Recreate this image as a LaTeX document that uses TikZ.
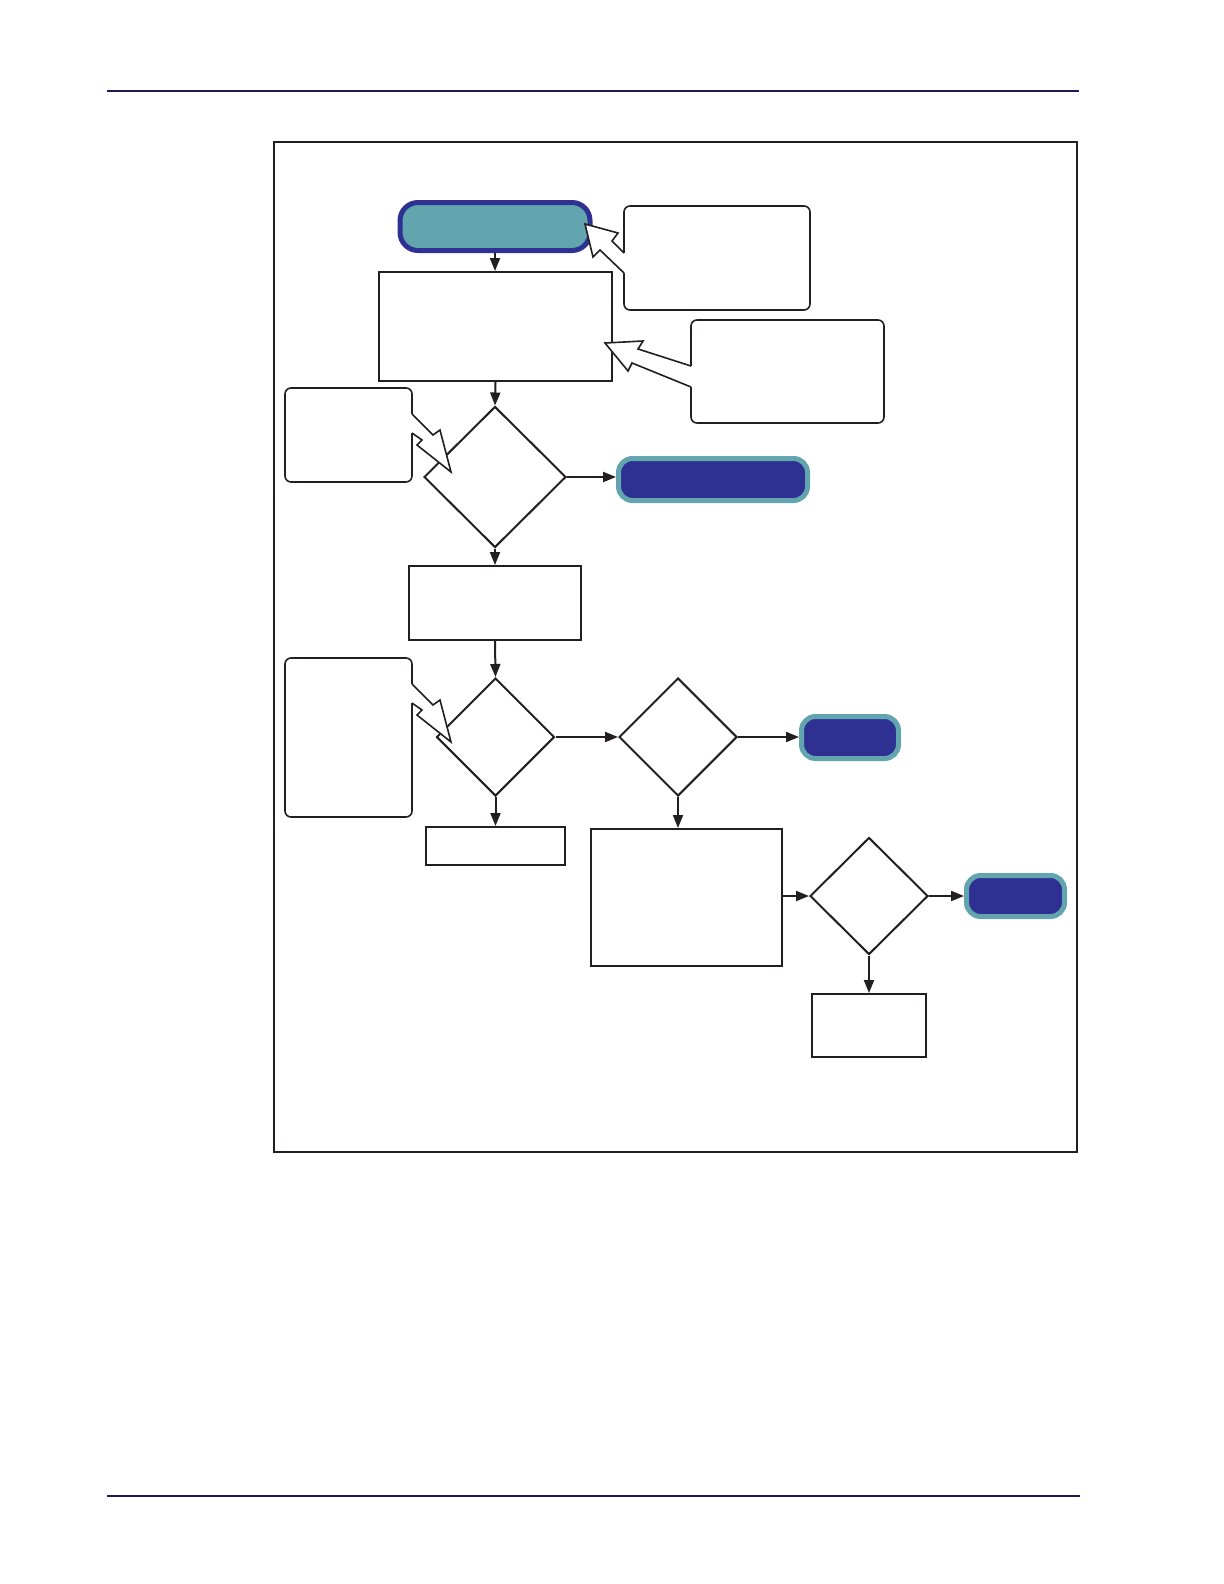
\documentclass[tikz,border=0pt]{standalone}
\usetikzlibrary{shapes.geometric,arrows.meta}
\newdimen\pxu \pxu=0.5pt
\definecolor{ink}{RGB}{35,31,32}
\definecolor{navy}{RGB}{46,49,146}
\definecolor{tealf}{RGB}{98,165,174}
\definecolor{rulec}{RGB}{32,24,90}
\tikzset{
  box/.style={rectangle, draw=ink, line width=2\pxu, fill=white, inner sep=0pt},
  note/.style={rectangle, rounded corners=6\pxu, draw=ink, line width=1.6\pxu, fill=white, inner sep=0pt},
  decision/.style={diamond, draw=ink, line width=2\pxu, fill=white, inner sep=0pt},
  startterm/.style={rectangle, rounded corners=18\pxu, fill=tealf, draw=navy, line width=5\pxu, inner sep=0pt},
  endterm/.style={rectangle, rounded corners=14\pxu, fill=navy, draw=tealf, line width=5\pxu, inner sep=0pt},
  flow/.style={draw=ink, line width=1pt, -{Triangle[length=6.5pt,width=5pt]}},
  pointer/.style={draw=ink, line width=1.6\pxu, line join=miter},
}
\begin{document}
\begin{tikzpicture}[x=0.5pt,y=-0.5pt]
\useasboundingbox (0,0) rectangle (1224,1584);
% page rules and frame
\draw[rulec, line width=1.4\pxu] (107,91) -- (1079,91);
\draw[rulec, line width=1.4\pxu] (107,1496) -- (1080,1496);
\draw[ink, line width=2\pxu] (274,142) rectangle (1077,1152);

% nodes
\node[startterm, minimum width=190\pxu, minimum height=48\pxu] (start) at (495,226.5) {};
\node[box, minimum width=233\pxu, minimum height=109\pxu] (boxA) at (495.5,326.5) {};
\node[note, minimum width=186\pxu, minimum height=104\pxu] (call1) at (717,258) {};
\node[note, minimum width=193\pxu, minimum height=103\pxu] (call2) at (787.5,371.5) {};
\node[note, minimum width=127\pxu, minimum height=94\pxu] (call3) at (348.5,435) {};
\node[note, minimum width=127\pxu, minimum height=159\pxu] (call4) at (348.5,737.5) {};
\node[decision, minimum width=142\pxu, minimum height=141\pxu] (d1) at (495,477) {};
\node[endterm, minimum width=189\pxu, minimum height=42\pxu] (t2) at (713,479.5) {};
\node[box, minimum width=172\pxu, minimum height=74\pxu] (boxB) at (495,603) {};
\node[decision, minimum width=118\pxu, minimum height=118\pxu] (d2) at (495.5,737) {};
\node[decision, minimum width=118\pxu, minimum height=118\pxu] (d3) at (678,737) {};
\node[endterm, minimum width=97\pxu, minimum height=42\pxu] (t3) at (850,737.5) {};
\node[box, minimum width=139\pxu, minimum height=38\pxu] (boxC) at (495.5,846) {};
\node[box, minimum width=191\pxu, minimum height=137\pxu] (boxD) at (686.5,897.5) {};
\node[decision, minimum width=118\pxu, minimum height=117\pxu] (d4) at (869,896) {};
\node[endterm, minimum width=98\pxu, minimum height=41\pxu] (t4) at (1015.5,896) {};
\node[box, minimum width=114\pxu, minimum height=63\pxu] (boxE) at (869,1025.5) {};

% connectors
\draw[flow] (start.south) -- (start.south |- boxA.north);
\draw[flow] (boxA.south) -- (d1.north);
\draw[flow] (d1.east) -- (d1.east -| t2.west);
\draw[flow] (d1.south) -- (boxB.north);
\draw[flow] (boxB.south) -- (d2.north);
\draw[flow] (d2.east) -- (d3.west);
\draw[flow] (d3.east) -- (d3.east -| t3.west);
\draw[flow] (d2.south) -- (d2.south |- boxC.north);
\draw[flow] (d3.south) -- (d3.south |- boxD.north);
\draw[flow] (boxD.east |- d4.west) -- (d4.west);
\draw[flow] (d4.east) -- (t4.west);
\draw[flow] (d4.south) -- (boxE.north);

% callout pointers (hollow block arrows)
\fill[white] (624,253) -- (612,241) -- (618,233) -- (585,224) -- (593,257) -- (600,250) -- (624,273) -- (627,273) -- (627,253) -- cycle;
\draw[pointer] (624,253) -- (612,241) -- (618,233) -- (585,224) -- (593,257) -- (600,250) -- (624,273);

\fill[white] (691,366) -- (638,349) -- (643,341) -- (605,343) -- (628,371) -- (632,363) -- (691,387) -- (694,387) -- (694,366) -- cycle;
\draw[pointer] (691,366) -- (638,349) -- (643,341) -- (605,343) -- (628,371) -- (632,363) -- (691,387);

\fill[white] (412,414) -- (433,435) -- (440,430) -- (451,472) -- (417,445) -- (422,440) -- (412,433) -- (409,433) -- (409,414) -- cycle;
\draw[pointer] (412,414) -- (433,435) -- (440,430) -- (451,472) -- (417,445) -- (422,440) -- (412,433);

\fill[white] (412,684) -- (433,705) -- (440,700) -- (451,742) -- (417,715) -- (422,710) -- (412,703) -- (409,703) -- (409,684) -- cycle;
\draw[pointer] (412,684) -- (433,705) -- (440,700) -- (451,742) -- (417,715) -- (422,710) -- (412,703);
\end{tikzpicture}
\end{document}
